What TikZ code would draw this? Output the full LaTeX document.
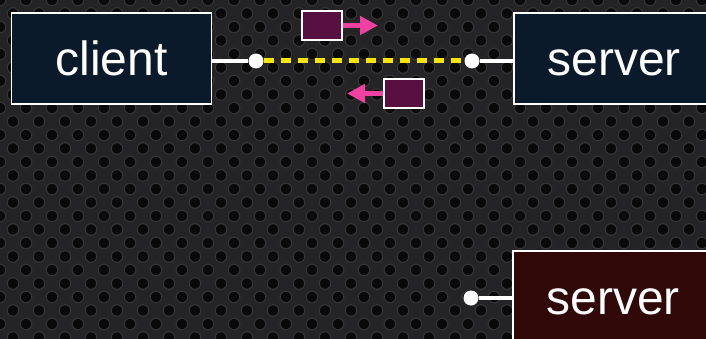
\documentclass[tikz,border=0pt]{standalone}
\usepackage{fontspec}
\setmainfont{Liberation Sans}
\usetikzlibrary{positioning,arrows.meta}
\definecolor{mesh}{RGB}{36,36,38}
\definecolor{hole}{RGB}{9,9,9}
\definecolor{rim}{RGB}{52,52,54}
\definecolor{navy}{RGB}{10,26,42}
\definecolor{wine}{RGB}{48,8,8}
\definecolor{pkt}{RGB}{88,16,64}
\definecolor{hotpink}{RGB}{240,64,160}
\definecolor{wire}{RGB}{250,230,0}

\begin{document}
\begin{tikzpicture}
    [x=1pt, y=-1pt,
    host/.style={draw=white, line width=1.5pt, text=white, minimum width=200pt,
        minimum height=91pt, text height=35pt, text depth=0pt,
        font=\fontsize{48}{50}\selectfont},
    packet/.style={draw=white, line width=1.5pt, fill=pkt, minimum width=40pt,
        minimum height=29pt},
    plug/.style={circle, fill=white, inner sep=0pt, minimum size=15pt},
    cable/.style={white, line width=4pt},
    move/.style={hotpink, line width=5pt, -{Triangle[length=18pt,width=18pt]}}]

\clip (0,0) rectangle (706,339);
\fill[mesh] (0,0) rectangle (706,339);
% mesh holes
\foreach \r in {0,...,26} {
    \foreach \c in {0,...,28} {
        \pgfmathsetmacro{\hx}{\c*26 + mod(\r,2)*13}
        \fill[hole, draw=rim, line width=1.2pt] (\hx, \r*13.5) circle (5.8pt);
    }
}

\node[host, fill=navy] (client) at (111.5,58.5) {client};
\node[host, fill=navy] (server) at (614,58.5) {server};
\node[host, fill=wine] (server2) at (613,296.5) {server};

\node[plug] (cdot) at (256,61) {};
\node[plug] (sdot) at (472,61) {};
\node[plug] (bdot) at (471,298) {};

\draw[cable] (client.east |- cdot) -- (cdot);
\draw[cable] (sdot) -- (server.west |- sdot);
\draw[cable] (bdot) -- (server2.west |- bdot);
\draw[wire, line width=5pt, dash pattern=on 10pt off 7pt] (cdot) -- (sdot);

\node[packet] (pktout) at (322,25.5) {};
\node[packet] (pktin) at (404,93.5) {};
\coordinate (outend) at (378,25.5);
\coordinate (inend) at (347,93.5);
\draw[move] (pktout) -- (outend);
\draw[move] (pktin) -- (inend);
\end{tikzpicture}
\end{document}
